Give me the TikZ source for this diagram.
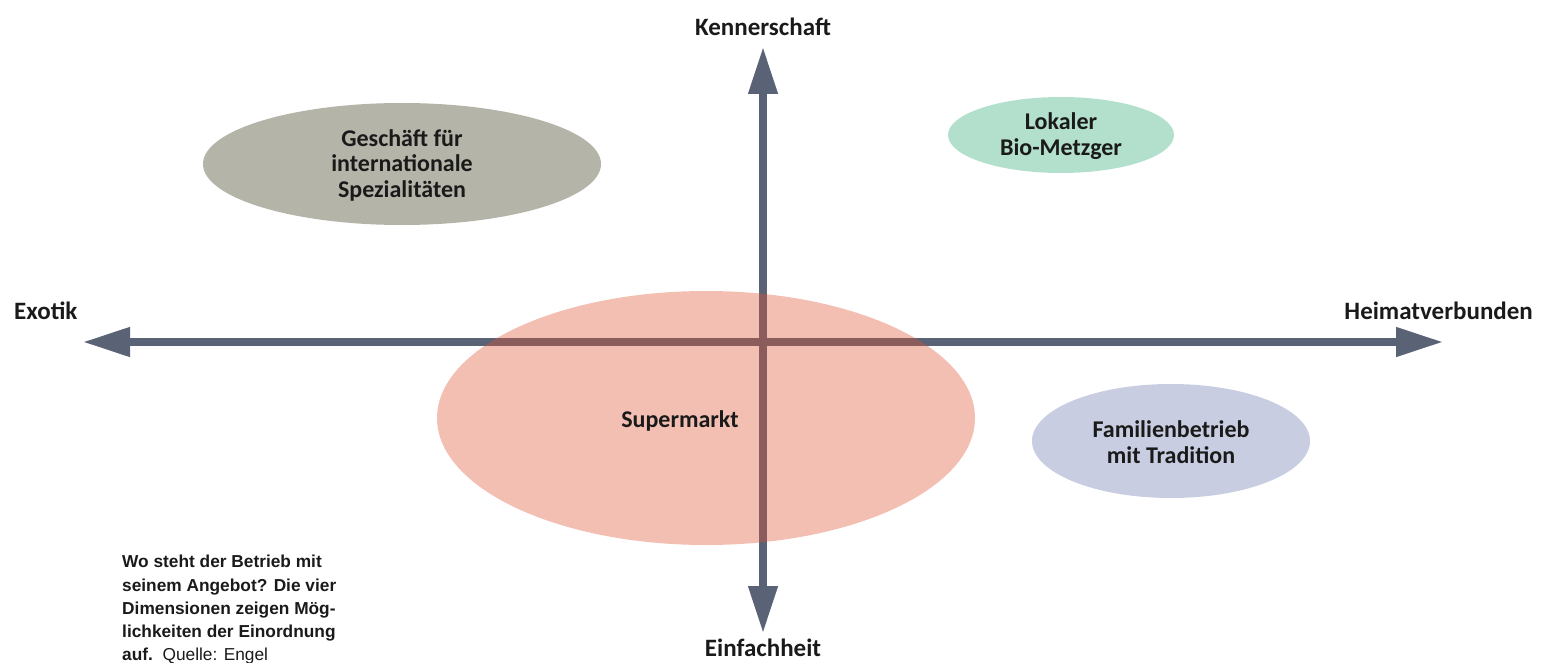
\documentclass[tikz,border=0pt]{standalone}
\usepackage{fontspec}
\setmainfont{Carlito}
\newfontfamily\capfont{Liberation Sans}
\usetikzlibrary{arrows.meta,shapes.geometric}
\definecolor{axiscol}{HTML}{5A6275}
\definecolor{grayell}{HTML}{B5B4A8}
\definecolor{greenell}{HTML}{B2E0CC}
\definecolor{blueell}{HTML}{C8CDE1}
\definecolor{salmonell}{HTML}{E15232}
\definecolor{txt}{HTML}{1A1A1A}
\tikzset{
  axisline/.style={draw=axiscol, line width=7.5pt, {Triangle[length=47pt,width=28pt]}-{Triangle[length=47pt,width=28pt]}},
  ell/.style={ellipse, draw=none, inner sep=0pt},
  lbl/.style={font=\fontsize{24}{25.5}\selectfont\bfseries, text=txt, align=center, inner sep=0pt},
  axlbl/.style={font=\fontsize{25}{26}\selectfont\bfseries, text=txt, inner sep=0pt},
}
\begin{document}
\begin{tikzpicture}[x=1pt,y=-1pt]
\useasboundingbox (0,0) rectangle (1557,663);
\coordinate (L) at (83,342);
\coordinate (R) at (1443,342);
\coordinate (T) at (763,47);
\coordinate (B) at (763,633);
\draw[axisline] (L) -- (R);
\draw[axisline] (B) -- (T);
\node[ell, fill=grayell, minimum width=398pt, minimum height=122pt] (geschaeft) at (402,164) {};
\node[ell, fill=greenell, minimum width=226pt, minimum height=76pt] (bio) at (1061,135) {};
\node[ell, fill=blueell, minimum width=278pt, minimum height=114pt] (familie) at (1171,441) {};
\node[ell, fill=salmonell, fill opacity=0.37, minimum width=538pt, minimum height=254pt] (super) at (706,418) {};
\node[lbl] (tgeschaeft) at (402,165) {Geschäft für\\internationale\\Spezialitäten};
\node[lbl] (tbio) at (1061,136) {Lokaler\\Bio-Metzger};
\node[lbl] (tfamilie) at (1171,442) {Familienbetrieb\\mit Tradition};
\node[lbl] (tsuper) at (680,421) {Supermarkt};
\node[axlbl] (kenner) at (763,27) {Kennerschaft};
\node[axlbl, anchor=west] (exotik) at (14,311) {Exotik};
\node[axlbl, anchor=east] (heimat) at (1533,311) {Heimatverbunden};
\node[axlbl] (einfach) at (763,648) {Einfachheit};
\node[anchor=north west, inner sep=0pt, align=left, text=txt,
      font=\capfont\fontsize{17.3}{23.3}\selectfont] (caption) at (122,555)
  {\textbf{Wo steht der Betrieb mit}\\
   \textbf{seinem Angebot? Die vier}\\
   \textbf{Dimensionen zeigen Mög-}\\
   \textbf{lichkeiten der Einordnung}\\
   \textbf{auf.}\ \ Quelle: Engel};
\end{tikzpicture}
\end{document}
